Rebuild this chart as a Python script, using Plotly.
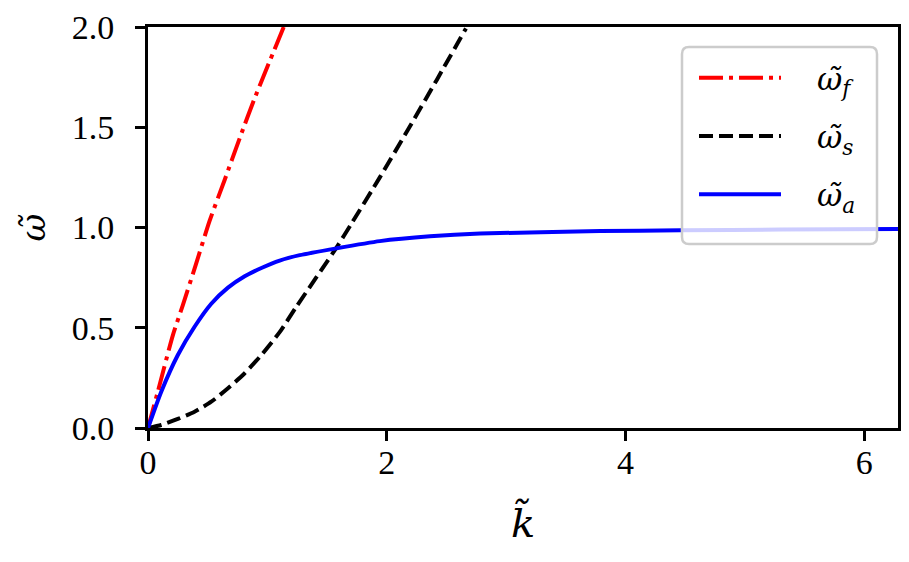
import math
import plotly.graph_objects as go

# ---- data ----
k_f = [0, 0.082, 0.208, 0.292, 0.404, 0.516, 0.642, 0.768, 0.893, 1.137]
w_f = [0, 0.181, 0.462, 0.613, 0.821, 1.033, 1.237, 1.445, 1.644, 2.0]

k_s = [0, 0.111, 0.25, 0.39, 0.53, 0.67, 0.81, 0.95, 1.103, 1.243, 1.579,
       1.705, 1.942, 2.18, 2.418, 2.664]
w_s = [0, 0.015, 0.045, 0.081, 0.131, 0.198, 0.273, 0.364, 0.478, 0.605, 0.9,
       1.02, 1.25, 1.49, 1.735, 1.993]

k_a = [0, 0.111, 0.25, 0.39, 0.53, 0.67, 0.81, 0.95, 1.103, 1.271, 1.579,
       1.942, 2.362, 2.782, 3.787, 4.46, 5.3, 6.283]
w_a = [0, 0.181, 0.364, 0.505, 0.62, 0.7, 0.757, 0.798, 0.835, 0.862, 0.896,
       0.932, 0.956, 0.97, 0.982, 0.986, 0.99, 0.9925]

PAD = "\u2002\u2002"
names = [PAD + "<i>ω̃</i><sub><i>f</i></sub>", PAD + "<i>ω̃</i><sub><i>s</i></sub>",
         PAD + "<i>ω̃</i><sub><i>a</i></sub>"]
x_ticks = [0, 2, 4, 6]
y_ticks = [0, 0.5, 1.0, 1.5, 2.0]
y_ticktext = ["0.0", "0.5", "1.0", "1.5", "2.0"]

FONT = "Liberation Serif"
MATHFONT = "DejaVu Serif"
LW = 4

fig = go.Figure()
fig.add_trace(go.Scatter(x=k_f, y=w_f, mode="lines", name=names[0], legendgroup="f",
                         line=dict(color="#ff0000", width=LW, shape="spline", smoothing=0.6,
                                   dash="24px,6px,4px,6px")))
fig.add_trace(go.Scatter(x=k_s, y=w_s, mode="lines", name=names[1], legendgroup="s",
                         line=dict(color="#000000", width=LW, shape="spline", smoothing=0.6,
                                   dash="14px,6px")))
fig.add_trace(go.Scatter(x=k_a, y=w_a, mode="lines", name=names[2], legendgroup="a",
                         line=dict(color="#0000ff", width=LW, shape="spline", smoothing=0.6)))

# rounded legend frame (paper coords)
L, R, T, B = 148.0, 898.0, 27.0, 428.0
def px2paper_x(p):
    return (p - L) / (R - L)
def px2paper_y(p):
    return (B - p) / (B - T)
x0, x1 = px2paper_x(682), px2paper_x(877)
y1, y0 = px2paper_y(47), px2paper_y(244)
rx, ry = 7 / (R - L), 7 / (B - T)
path = (f"M{x0+rx},{y1} L{x1-rx},{y1} Q{x1},{y1} {x1},{y1-ry} L{x1},{y0+ry} "
        f"Q{x1},{y0} {x1-rx},{y0} L{x0+rx},{y0} Q{x0},{y0} {x0},{y0+ry} "
        f"L{x0},{y1-ry} Q{x0},{y1} {x0+rx},{y1} Z")

fig.update_layout(
    width=909, height=562,
    margin=dict(l=148, r=11, t=27, b=134, autoexpand=False),
    plot_bgcolor="white", paper_bgcolor="white",
    font=dict(family=FONT, size=30, color="black"),
    showlegend=True,
    legend=dict(x=px2paper_x(694), y=px2paper_y(51), xanchor="left", yanchor="top",
                bgcolor="rgba(0,0,0,0)", borderwidth=0,
                font=dict(family=MATHFONT, size=31), traceorder="grouped",
                tracegroupgap=15, itemwidth=82),
    shapes=[dict(type="path", path=path, xref="paper", yref="paper", layer="above",
                 fillcolor="rgba(255,255,255,0.8)",
                 line=dict(color="rgba(204,204,204,1)", width=2.5))],
    xaxis=dict(range=[0, 2 * math.pi], tickvals=x_ticks, ticks="outside", ticklen=10,
               tickwidth=2.5, tickcolor="black", showline=True, linewidth=3,
               linecolor="black", mirror=True, showgrid=False, zeroline=False,
               tickfont=dict(family=FONT, size=34), ticklabelstandoff=-8,
               title=dict(text="<i>k̃</i>", font=dict(family=MATHFONT, size=40), standoff=30)),
    yaxis=dict(range=[0, 2], tickvals=y_ticks, ticktext=y_ticktext, ticks="outside",
               ticklen=10, tickwidth=2.5, tickcolor="black", showline=True, linewidth=3,
               linecolor="black", mirror=True, showgrid=False, zeroline=False,
               tickfont=dict(family=FONT, size=34), ticklabelstandoff=14,
               title=dict(text="<i>ω̃</i>", font=dict(family=MATHFONT, size=34), standoff=16)),
)

fig.write_html("out.html", config={"displayModeBar": False},
               post_script="document.body.style.margin='0';document.body.style.padding='0';")
